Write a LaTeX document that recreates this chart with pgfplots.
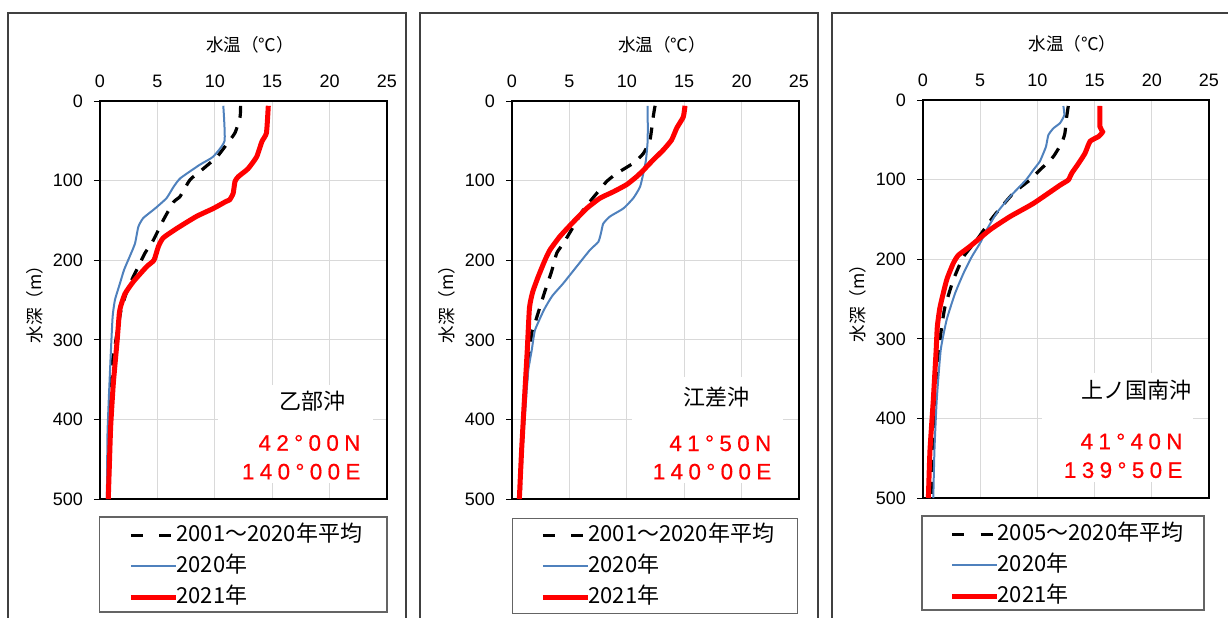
\documentclass[border=0pt]{standalone}
\usepackage{fontspec}
\setmainfont{Liberation Sans}
\newfontfamily\jp{Noto Sans CJK JP}
\newfontfamily\redfont[LetterSpace=24,FakeBold=0.6]{Liberation Sans}
\usepackage{pgfplots}
\pgfplotsset{compat=1.18}
\definecolor{gridgray}{RGB}{217,217,217}
\definecolor{blueA}{RGB}{79,129,189}
\definecolor{framegray}{RGB}{64,64,64}
\definecolor{leggray}{RGB}{100,100,100}
\tikzset{
 station/.style={font=\jp\fontsize{11}{13}\selectfont},
 coord/.style={anchor=east, text=red, font=\redfont\fontsize{11.2}{13}\selectfont},
}
\pgfplotsset{
 panel/.style={
  scale only axis, width=143.5pt, height=199pt,
  xmin=0,xmax=25,ymin=0,ymax=500,y dir=reverse,
  xtick={0,5,10,15,20,25}, ytick={0,100,200,300,400,500},
  xticklabel pos=right, ytick pos=left, xtick style={draw=none},
  tick align=outside, major tick length=3pt,
  ytick style={black, line width=0.5pt},
  grid=major, major grid style={gridgray, line width=0.6pt},
  axis line style={black, line width=1pt},
  tick label style={font=\fontsize{9}{10}\selectfont},
  yticklabel style={xshift=-2pt},
  /pgf/number format/assume math mode=true,
  xlabel={\jp 水温（℃）}, ylabel={\jp 水深（m）},
  label style={font=\fontsize{8.8}{10}\selectfont},
  xlabel style={at={(axis description cs:0.523,1)}, anchor=center, yshift=28pt},
  ylabel style={at={(axis description cs:-0.228,0.5)}, anchor=center},
  clip=false,
  legend cell align=left,
  legend style={draw=none, fill=none, inner sep=0pt, column sep=-1pt, row sep=5.5pt,
    font=\jp\fontsize{11}{13}\selectfont, nodes={inner sep=0pt, text height=8pt, text depth=2pt},
    anchor=north west},
  legend image code/.code={\draw[#1] (0pt,0pt) -- (22.5pt,0pt);},
 },
 avg/.style={black, line width=1.6pt, dash pattern=on 6pt off 5pt, smooth, tension=0.3,
   legend image code/.code={\draw[black, line width=1.6pt] (0pt,0pt) -- (6pt,0pt) (14.2pt,0pt) -- (21.8pt,0pt);}},
 yA/.style={blueA, line width=1pt, smooth, tension=0.3},
 yB/.style={red, line width=2.5pt, smooth, tension=0.3},
}
\begin{document}
\begin{tikzpicture}
\useasboundingbox (0,0) rectangle (614pt,-308.5pt);
\draw[framegray, line width=0.9pt] (4pt,-320pt) -- (4pt,-6.5pt) -- (203pt,-6.5pt) -- (203pt,-320pt);
\draw[framegray, line width=0.9pt] (210pt,-320pt) -- (210pt,-6.5pt) -- (409pt,-6.5pt) -- (409pt,-320pt);
\draw[framegray, line width=0.9pt] (416pt,-320pt) -- (416pt,-6.5pt) -- (620pt,-6.5pt);

% Panel 1
\begin{axis}[panel, at={(50pt,-50.5pt)}, anchor=north west,
  legend style={at={(axis description cs:0.0976,0)}, yshift=-13pt}]
\draw[leggray, line width=0.6pt] (axis description cs:-0.003,-0.0452) rectangle (axis description cs:1,-0.284);
\fill[white] (axis cs:10.28,357) rectangle (axis cs:23.78,480);
\addplot[avg] coordinates {(12.25,6) (12.2,20) (11.76,40) (11.0,55) (10.2,70) (9.0,85) (7.84,99) (6.97,120) (6.4,127) (5.5,150) (4.64,175) (3.92,191) (3.2,212) (2.76,225) (2.2,245) (1.8,265) (1.5,290) (1.25,312) (1.05,330) (0.95,360) (0.85,420) (0.8,500)};
\addlegendentry{2001～2020年平均}
\addplot[yA] coordinates {(10.74,6) (10.85,50) (9.85,70) (8.7,80) (7.0,97) (6.4,108) (5.8,122) (4.8,135) (3.77,147) (3.34,158) (3.05,179) (2.6,195) (2.1,212) (1.74,229) (1.3,250) (1.1,271) (0.93,320) (0.75,380) (0.65,420) (0.6,500)};
\addlegendentry{2020年}
\addplot[yB] coordinates {(14.66,6) (14.5,40) (14.1,51) (13.65,70) (12.9,85) (12.05,95) (11.76,101) (11.6,116) (11.3,124) (11.0,126) (9.87,135) (8.4,145) (6.7,160) (5.5,172) (5.08,183) (4.7,200) (4.07,208) (2.9,227) (2.18,242) (1.8,258) (1.68,267) (1.5,300) (1.16,355) (0.93,409) (0.81,460) (0.72,500)};
\addlegendentry{2021年}
\node[station] at (axis cs:18.47,377) {乙部沖};
\node[coord] at (axis cs:23.3,429.6) {42°00N};
\node[coord] at (axis cs:23.3,465.7) {140°00E};
\end{axis}

% Panel 2
\begin{axis}[panel, at={(256pt,-50.5pt)}, anchor=north west,
  legend style={at={(axis description cs:0.0976,0)}, yshift=-13pt}]
\draw[leggray, line width=0.6pt] (axis description cs:0.001,-0.0485) rectangle (axis description cs:0.995,-0.2872);
\fill[white] (axis cs:10.43,347) rectangle (axis cs:23.6,480);
\addplot[avg] coordinates {(12.46,6) (12.3,20) (12.02,49) (11.44,66) (10.57,78) (9.12,91) (8.25,101) (7.38,116) (6.2,137) (5.34,158) (4.47,179) (3.9,191) (3.45,214) (2.8,242) (2.0,279) (1.72,291) (1.5,320) (1.2,360) (0.9,430) (0.7,500)};
\addlegendentry{2001～2020年平均}
\addplot[yA] coordinates {(11.82,6) (11.82,49) (11.67,74) (11.44,91) (11.15,108) (10.57,122) (9.7,135) (8.54,145) (7.95,154) (7.75,166) (7.52,177) (6.8,187) (5.63,208) (4.47,229) (3.5,245) (2.8,262) (2.0,288) (1.72,313) (1.42,338) (1.2,380) (0.95,430) (0.7,500)};
\addlegendentry{2020年}
\addplot[yB] coordinates {(15.07,6) (14.92,20) (14.35,34) (13.9,49) (13.18,61.5) (12.3,74) (11.44,87) (10.86,95) (9.99,105) (8.83,114) (7.67,122) (6.5,135) (5.34,152) (4.18,170) (3.31,187) (2.87,200) (2.3,220) (1.8,240) (1.52,260) (1.33,313) (1.13,363) (0.84,438) (0.64,500)};
\addlegendentry{2021年}
\node[station] at (axis cs:17.83,371.5) {江差沖};
\node[coord] at (axis cs:23.2,430) {41°50N};
\node[coord] at (axis cs:23.2,465.7) {140°00E};
\end{axis}

% Panel 3
\begin{axis}[panel, width=143pt, at={(461.5pt,-50pt)}, anchor=north west,
  legend style={at={(axis description cs:0.092,0)}, yshift=-13pt}]
\draw[leggray, line width=0.6pt] (axis description cs:-0.0035,-0.0452) rectangle (axis description cs:0.9825,-0.2814);
\fill[white] (axis cs:10.4,343) rectangle (axis cs:23.6,480);
\addplot[avg] coordinates {(12.7,7.5) (12.56,21) (12.4,42) (12.12,54) (11.4,71) (10.5,84) (9.64,96) (9.35,100.5) (7.9,117) (6.15,146.5) (4.69,176) (3.53,197) (2.65,226) (1.92,260) (1.63,285) (1.4,314) (1.05,377) (0.85,440) (0.7,500)};
\addlegendentry{2005～2020年平均}
\addplot[yA] coordinates {(12.27,7.5) (12.35,19) (11.98,29) (11.4,35.5) (10.96,44) (10.75,58.6) (10.46,69) (10.2,77.5) (9.64,88) (9.0,100.5) (7.6,121.5) (6.44,142) (5.57,163) (4.98,180) (4.26,197) (3.53,218) (2.8,243) (2.07,276) (1.55,314) (1.2,377) (1.0,440) (0.9,500)};
\addlegendentry{2020年}
\addplot[yB] coordinates {(15.47,7.5) (15.47,33.5) (15.7,40) (15.33,46) (14.6,52) (14.16,67) (13.58,80) (13.0,92) (12.7,100.5) (11.98,107) (9.64,130) (7.6,146.5) (5.86,163) (4.1,184) (3.09,195) (2.65,205) (2.07,226) (1.49,260) (1.25,285) (1.15,314) (0.9,377) (0.61,440) (0.47,500)};
\addlegendentry{2021年}
\node[station] at (axis cs:18.62,364) {上ノ国南沖};
\node[coord] at (axis cs:23.3,429) {41°40N};
\node[coord] at (axis cs:23.3,465) {139°50E};
\end{axis}
\end{tikzpicture}
\end{document}
